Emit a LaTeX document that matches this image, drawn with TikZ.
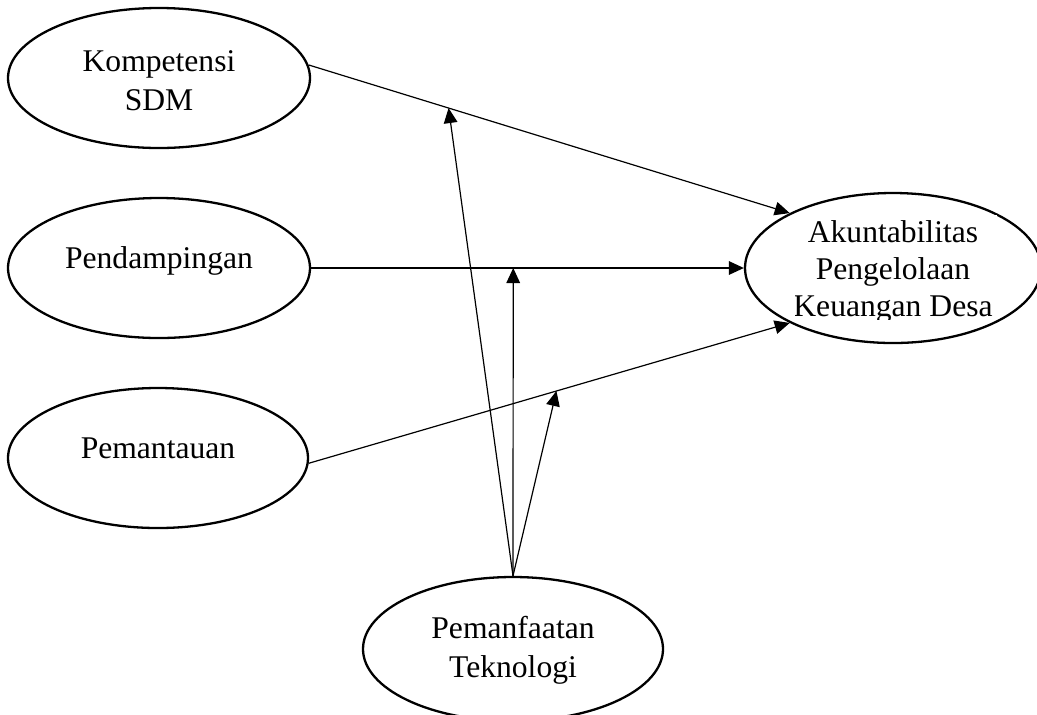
\documentclass[tikz,border=0pt]{standalone}
\usepackage{fontspec}
\setmainfont{Liberation Serif}
\usetikzlibrary{shapes.geometric,arrows.meta}
\begin{document}
\begin{tikzpicture}[x=0.5pt,y=-0.5pt,
  oval/.style={ellipse,draw,line width=1.15pt,inner sep=0pt},
  lbl/.style={font=\fontsize{15.8}{19.5}\selectfont,align=center,inner sep=0pt},
  lblthree/.style={font=\fontsize{15.8}{18.5}\selectfont,align=center,inner sep=0pt},
  conn/.style={line width=0.6pt,-{Triangle[length=7.5pt,width=6.8pt]}}]
\useasboundingbox (0,0) rectangle (1037,714);
\clip (0,0) rectangle (1037,714);
% ellipses
\node[oval,minimum width=151pt,minimum height=70pt] (k) at (159,78) {};
\node[oval,minimum width=151pt,minimum height=70pt] (p) at (159,268) {};
\node[oval,minimum width=150pt,minimum height=70pt] (m) at (158,458) {};
\node[oval,minimum width=148pt,minimum height=75pt] (a) at (893,268) {};
\node[oval,minimum width=150pt,minimum height=72pt] (t) at (513,649) {};
% labels
\node[lbl] (kT) at (159,81) {Kompetensi\\SDM};
\node[lbl] (pT) at (159,261) {Pendampingan};
\node[lbl] (mT) at (158,448) {Pemantauan};
\node[lbl] (tT) at (513,650) {Pemanfaatan\\Teknologi};
\begin{scope}
  \clip (795,215) rectangle (997,319);
  \fill[white] (795,215) rectangle (997,319);
  \node[lblthree] (aT) at (893,272) {Akuntabilitas\\Pengelolaan\\Keuangan Desa};
\end{scope}
% main connectors
\draw[conn] (k.5) -- (a.152);
\draw[conn] (p.east) -- (a.west);
\draw[conn] (m.-2) -- (a.208);
% points on connectors
\path (k.5) -- (a.152) coordinate[pos=0.291] (c1);
\path (p.east) -- (a.west) coordinate[pos=0.467] (c2);
\path (m.-2) -- (a.208) coordinate[pos=0.515] (c3);
% moderating arrows
\draw[conn] (t.north) -- (c1);
\draw[conn] (t.north) -- (c2);
\draw[conn] (t.north) -- (c3);
\end{tikzpicture}
\end{document}
